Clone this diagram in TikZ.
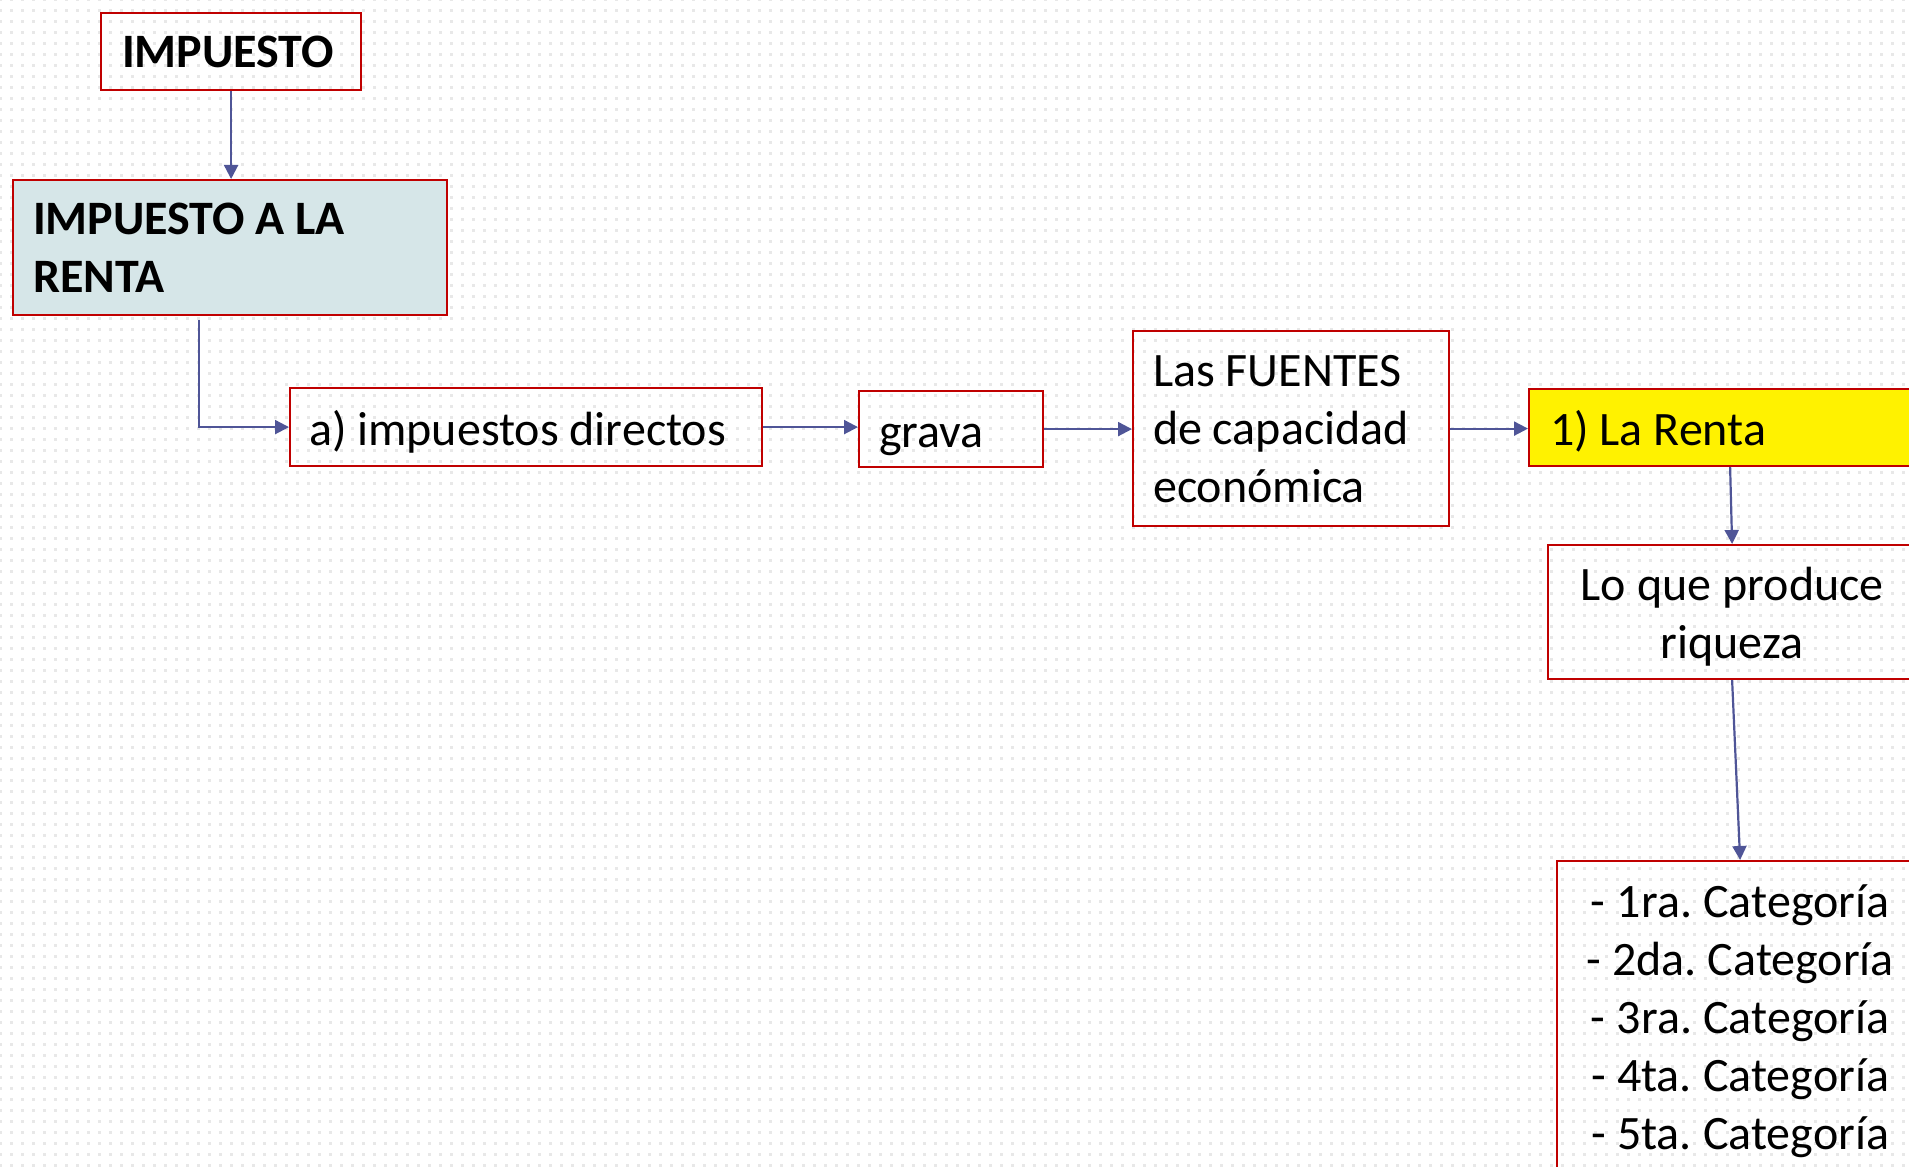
\documentclass[tikz,border=0pt]{standalone}
\usepackage{fontspec}
\setmainfont{Carlito}
\usetikzlibrary{arrows.meta,patterns.meta}
\definecolor{boxred}{RGB}{192,0,0}
\definecolor{arrowblue}{RGB}{79,85,151}
\definecolor{lightteal}{RGB}{214,230,232}
\tikzdeclarepattern{name=bgdots, type=uncolored, bottom left={(0pt,0pt)}, top right={(5.5pt,5.5pt)}, tile size={(5.5pt,5.5pt)}, code={\fill (0pt,0pt) rectangle (1.5pt,1.5pt);}}
\begin{document}
\frenchspacing
\begin{tikzpicture}[x=0.5pt,y=-0.5pt,
  box/.style={draw=boxred, line width=1.1pt, inner ysep=0pt, anchor=north west, font=\fontsize{24}{29}\selectfont,
    execute at begin node={\spaceskip=5.4pt plus 1pt minus 1pt\xspaceskip=5.4pt plus 1pt minus 1pt\relax}},
  boldtext/.style={font=\fontsize{24}{29}\selectfont\bfseries},
  oneline/.style={text height=22pt, text depth=4pt},
  conn/.style={draw=arrowblue, line width=1.1pt, -{Triangle[length=7pt,width=7pt]}}]
\path[use as bounding box] (0,0) rectangle (1909,1166);
\clip (0,0) rectangle (1909,1166);
\fill[pattern=bgdots, pattern color=black!9] (0,0) rectangle (1909,1166);

\node[box, boldtext, minimum width=130pt, minimum height=38.5pt, inner xsep=10.5pt, text width=109pt, align=left] (imp) at (100,12) {IMPUESTO};
\node[box, boldtext, fill=lightteal, minimum width=217pt, minimum height=67.5pt, inner xsep=10pt, text width=197pt, align=left] (renta) at (12,179) {IMPUESTO A LA\\RENTA};
\node[box, oneline, minimum width=236pt, minimum height=39pt, inner xsep=9.5pt, text width=217pt, align=left] (dir) at (289,387) {a) impuestos directos};
\node[box, oneline, minimum width=92pt, minimum height=38pt, inner xsep=10pt, text width=72pt, align=left] (grava) at (858,390) {grava};
\node[box, minimum width=158pt, minimum height=97.5pt, inner xsep=10pt, text width=138pt, align=left] (fuentes) at (1132,330) {Las FUENTES\\de capacidad\\económica};
\node[box, oneline, fill=yellow, minimum width=201pt, minimum height=38.5pt, inner xsep=10.5pt, text width=180pt, align=left] (larenta) at (1528,388) {1) La Renta};
\node[box, minimum width=184pt, minimum height=67pt, inner xsep=5pt, text width=174pt, align=center] (loque) at (1547,544) {\rule{0pt}{21pt}Lo que produce\\riqueza};
\node[box, minimum width=183pt, minimum height=155pt, inner xsep=5pt, text width=173pt, align=center] (cats) at (1556,860) {\rule{0pt}{22pt}- 1ra. Categoría\\- 2da. Categoría\\- 3ra. Categoría\\- 4ta. Categoría\\- 5ta. Categoría};

\draw[conn] (imp.south) -- (renta.north -| imp.south);
\draw[conn] ([xshift=93.5pt,yshift=-2pt]renta.south west) |- (dir.west);
\draw[conn] (dir.east) -- (grava.west |- dir.east);
\draw[conn] (grava.east) -- (fuentes.west |- grava.east);
\draw[conn] (fuentes.east) -- (larenta.west |- fuentes.east);
\draw[conn] (larenta.south) -- (loque.north);
\draw[conn] (loque.south) -- (cats.north);
\end{tikzpicture}
\end{document}
